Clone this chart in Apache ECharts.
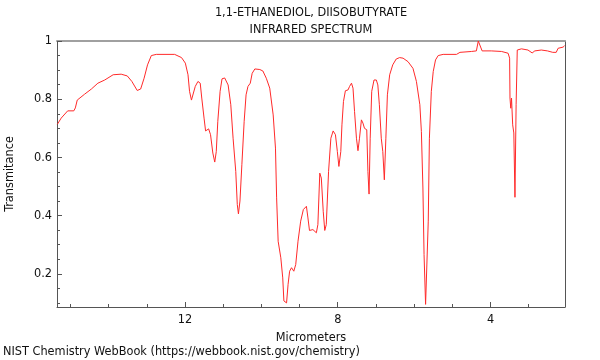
<!DOCTYPE html>
<html>
<head>
<meta charset="utf-8">
<script src="https://cdn.jsdelivr.net/npm/echarts@6/dist/echarts.min.js"></script>
<style>
html,body{margin:0;padding:0;background:#fff;}
#chart{width:600px;height:360px;}
</style>
</head>
<body>
<div id="chart"></div>
<script>
const wavelength = [
15.34,15.24,15.07,14.91,14.87,14.82,14.63,14.45,14.28,14.10,13.88,13.67,13.51,13.39,13.25,13.16,13.07,12.98,12.88,12.75,12.27,12.09,11.99,11.92,11.88,11.83,11.78,11.73,11.66,11.60,11.56,11.50,11.46,11.38,11.33,11.27,11.22,11.18,11.14,11.08,11.03,10.96,10.87,10.80,10.74,10.67,10.63,10.60,10.56,10.51,10.45,10.40,10.35,10.29,10.24,10.17,10.04,9.96,9.87,9.78,9.69,9.63,9.60,9.56,9.49,9.44,9.41,9.34,9.30,9.26,9.21,9.15,9.10,9.04,8.97,8.90,8.82,8.78,8.74,8.65,8.56,8.52,8.47,8.43,8.38,8.34,8.30,8.24,8.18,8.12,8.06,8.01,7.97,7.92,7.89,7.85,7.80,7.73,7.69,7.64,7.60,7.56,7.51,7.47,7.43,7.38,7.34,7.30,7.24,7.21,7.18,7.15,7.11,7.05,6.99,6.95,6.91,6.86,6.82,6.78,6.74,6.70,6.64,6.56,6.47,6.38,6.29,6.16,6.03,5.94,5.85,5.81,5.77,5.74,5.70,5.67,5.63,5.60,5.55,5.50,5.44,5.37,5.24,4.89,4.80,4.50,4.37,4.32,4.27,4.22,3.98,3.71,3.54,3.50,3.49,3.47,3.45,3.42,3.39,3.36,3.33,3.30,3.19,3.02,2.91,2.84,2.67,2.51,2.37,2.28,2.23,2.10,2.06
];
const transmittance = [
0.714,0.735,0.760,0.760,0.770,0.797,0.817,0.835,0.855,0.866,0.884,0.886,0.880,0.861,0.830,0.835,0.872,0.918,0.950,0.954,0.954,0.943,0.924,0.884,0.827,0.797,0.799,0.844,0.861,0.855,0.804,0.735,0.691,0.698,0.678,0.615,0.584,0.620,0.724,0.827,0.870,0.873,0.849,0.781,0.666,0.552,0.438,0.406,0.450,0.575,0.724,0.815,0.844,0.855,0.889,0.904,0.902,0.897,0.872,0.838,0.746,0.632,0.461,0.312,0.255,0.186,0.107,0.100,0.164,0.209,0.221,0.209,0.232,0.312,0.381,0.421,0.432,0.392,0.349,0.352,0.341,0.369,0.546,0.529,0.415,0.349,0.369,0.552,0.666,0.691,0.678,0.620,0.569,0.620,0.712,0.792,0.829,0.832,0.844,0.855,0.838,0.758,0.666,0.623,0.666,0.729,0.718,0.700,0.695,0.552,0.474,0.666,0.827,0.866,0.866,0.849,0.781,0.666,0.620,0.523,0.666,0.815,0.884,0.918,0.938,0.943,0.941,0.929,0.906,0.861,0.781,0.689,0.495,0.266,0.095,0.095,0.381,0.666,0.827,0.895,0.935,0.950,0.954,0.954,0.961,0.964,0.966,1.000,1.000,0.966,0.966,0.964,0.958,0.941,0.804,0.769,0.804,0.712,0.684,0.463,0.781,0.969,0.973,0.969,0.959,0.966,0.969,0.966,0.961,0.961,0.975,0.979,0.984
];
const majorXTicks = [4, 8, 12];
const minorXTicks = [3, 5, 6, 7, 9, 10, 11, 13, 14, 15];
const majorYTicks = [0.2, 0.4, 0.6, 0.8, 1];
const minorYTicks = [0.1, 0.15, 0.25, 0.3, 0.35, 0.45, 0.5, 0.55, 0.65, 0.7, 0.75, 0.85, 0.9, 0.95];
const titleLines = ['1,1-ETHANEDIOL, DIISOBUTYRATE', 'INFRARED SPECTRUM'];
const xName = 'Micrometers';
const yName = 'Transmitance';
const footer = 'NIST Chemistry WebBook (https://webbook.nist.gov/chemistry)';

const FONT = '"DejaVu Sans Condensed", "DejaVu Sans", sans-serif';
const FS = 12.6;
const XMIN = 2.05, XMAX = 15.35, YMIN = 0.086, YMAX = 1;
const data = wavelength.map((w, i) => [w, transmittance[i]]);

const chart = echarts.init(document.getElementById('chart'), null, {renderer: 'canvas'});
chart.setOption({
  animation: false,
  backgroundColor: '#fff',
  textStyle: {fontFamily: FONT},
  title: {
    text: titleLines.join('\n'),
    left: 311, top: 4, padding: 0, textAlign: 'center',
    textStyle: {fontFamily: FONT, fontSize: FS, fontWeight: 'normal', color: '#111', lineHeight: 17}
  },
  grid: {left: 57, right: 35, top: 41, bottom: 53, containLabel: false, outerBoundsMode: 'none'},
  xAxis: [
    {
      type: 'value', min: XMIN, max: XMAX, inverse: true, position: 'bottom',
      name: xName, nameLocation: 'middle', nameGap: 16,
      nameTextStyle: {fontFamily: FONT, fontSize: FS, color: '#111'},
      axisLine: {show: true, lineStyle: {color: '#555', width: 1}},
      axisTick: {show: true, inside: true, length: 5, customValues: majorXTicks, lineStyle: {color: '#555'}},
      axisLabel: {show: true, customValues: majorXTicks, margin: 6, fontFamily: FONT, fontSize: FS, color: '#111'},
      splitLine: {show: false}
    },
    {
      type: 'value', min: XMIN, max: XMAX, inverse: true, position: 'bottom',
      axisLine: {show: false},
      axisTick: {show: true, inside: true, length: 3, customValues: minorXTicks, lineStyle: {color: '#555'}},
      axisLabel: {show: false}, splitLine: {show: false}
    },
    {
      type: 'value', min: XMIN, max: XMAX, inverse: true, position: 'top',
      axisLine: {show: true, onZero: false, lineStyle: {color: '#a0a0a0', width: 2}},
      axisTick: {show: false}, axisLabel: {show: false}, splitLine: {show: false}
    }
  ],
  yAxis: [
    {
      type: 'value', min: YMIN, max: YMAX, position: 'left',
      name: yName, nameLocation: 'middle', nameGap: 41,
      nameTextStyle: {fontFamily: FONT, fontSize: FS, color: '#111'},
      axisLine: {show: true, onZero: false, lineStyle: {color: '#555', width: 1}},
      axisTick: {show: true, inside: true, length: 5, customValues: majorYTicks, lineStyle: {color: '#555'}},
      axisLabel: {show: true, customValues: majorYTicks, margin: 5, fontFamily: FONT, fontSize: FS, color: '#111'},
      splitLine: {show: false}
    },
    {
      type: 'value', min: YMIN, max: YMAX, position: 'left',
      axisLine: {show: false},
      axisTick: {show: true, inside: true, length: 3, customValues: minorYTicks, lineStyle: {color: '#555'}},
      axisLabel: {show: false}, splitLine: {show: false}
    },
    {
      type: 'value', min: YMIN, max: YMAX, position: 'right',
      axisLine: {show: true, onZero: false, lineStyle: {color: '#555', width: 1}},
      axisTick: {show: false}, axisLabel: {show: false}, splitLine: {show: false}
    }
  ],
  graphic: [
    {type: 'text', left: 3, top: 345, style: {text: footer, fontFamily: FONT, fontSize: FS, fill: '#111'}}
  ],
  series: [{
    type: 'line', xAxisIndex: 0, yAxisIndex: 0, data: data,
    showSymbol: false, symbol: 'none', smooth: false,
    lineStyle: {color: '#ff2a2a', width: 1},
    clip: true
  }]
});
</script>
</body>
</html>
